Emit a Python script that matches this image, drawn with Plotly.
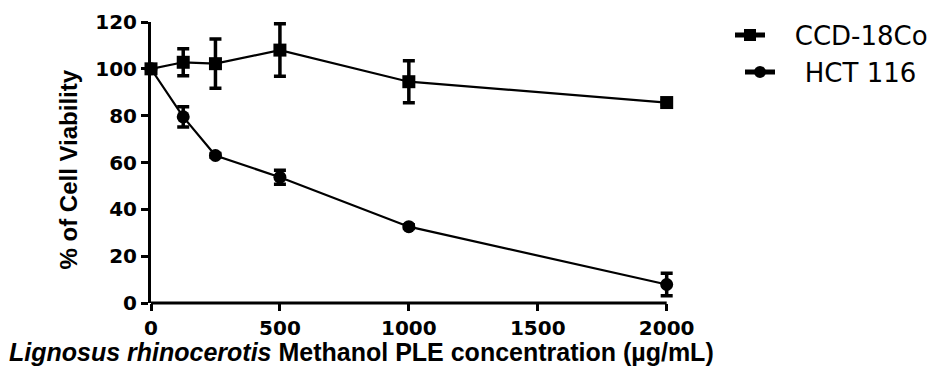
import plotly.graph_objects as go

conc = [0, 125, 250, 500, 1000, 2000]
ccd_vals = [100, 102.8, 102.2, 108.0, 94.5, 85.6]
ccd_err = [0.5, 5.8, 10.5, 11.2, 9.0, 0.8]
hct_vals = [100, 79.5, 63.0, 53.7, 32.6, 7.9]
hct_err = [0.5, 4.3, 0.8, 3.0, 0.8, 4.8]
x_ticks = [0, 500, 1000, 1500, 2000]
y_ticks = [0, 20, 40, 60, 80, 100, 120]
series_names = ["CCD-18Co", "HCT 116"]

W, H = 933, 368
L, R, T, B = 151, 256, 22, 65
PW, PH = W - L - R, H - T - B
PAD = "\u00a0\u00a0\u00a0"


def px(xp):
    return (xp - L) / PW


def py(yp):
    return (H - B - yp) / PH


fig = go.Figure()
fig.add_trace(go.Scatter(
    x=conc, y=ccd_vals, name=PAD + series_names[0], mode="lines+markers",
    line=dict(color="black", width=2.2),
    marker=dict(symbol="square", size=13, color="black"),
    error_y=dict(type="data", array=ccd_err, color="black", thickness=3.5, width=6),
    cliponaxis=False, legend="legend"))
fig.add_trace(go.Scatter(
    x=conc, y=hct_vals, name=PAD + series_names[1], mode="lines+markers",
    line=dict(color="black", width=2.2),
    marker=dict(symbol="circle", size=13, color="black"),
    error_y=dict(type="data", array=hct_err, color="black", thickness=3.5, width=6),
    cliponaxis=False, legend="legend2"))

# x axis line from 0 to 2000 only
fig.add_shape(type="line", xref="x", yref="paper", x0=0, x1=2000, y0=0, y1=0,
              line=dict(color="black", width=3))

tick_font = dict(family="DejaVu Sans", size=20, color="black", weight="bold")
leg_font = dict(family="DejaVu Sans", size=26, color="black")
fig.update_layout(
    width=W, height=H,
    margin=dict(l=L, r=R, t=T, b=B, autoexpand=False),
    paper_bgcolor="white", plot_bgcolor="white",
    xaxis=dict(range=[0, 2040], tickvals=x_ticks, showgrid=False, zeroline=False,
               showline=False, automargin=False,
               ticks="outside", ticklen=7, tickwidth=3, tickcolor="black",
               tickfont=tick_font),
    yaxis=dict(range=[0, 120], tickvals=y_ticks, showgrid=False, zeroline=False,
               showline=True, linecolor="black", linewidth=3, automargin=False,
               ticks="outside", ticklen=7, tickwidth=3, tickcolor="black",
               tickfont=tick_font),
    legend=dict(x=px(730), y=py(35), xanchor="left", yanchor="middle",
                font=leg_font, itemsizing="constant", bgcolor="rgba(0,0,0,0)"),
    legend2=dict(x=px(740), y=py(72), xanchor="left", yanchor="middle",
                 font=leg_font, itemsizing="constant", bgcolor="rgba(0,0,0,0)"),
    showlegend=True,
)
fig.add_annotation(
    text="% of Cell Viability", textangle=-90,
    xref="paper", yref="paper", x=px(67.5), y=py(170),
    xanchor="center", yanchor="middle", showarrow=False,
    font=dict(family="Liberation Sans, Arial", size=24, color="black", weight="bold"))
fig.add_annotation(
    text="<i>Lignosus rhinocerotis</i> Methanol PLE concentration (µg/mL)",
    xref="paper", yref="paper", x=px(361.5), y=py(352),
    xanchor="center", yanchor="middle", showarrow=False,
    font=dict(family="Liberation Sans, Arial", size=25, color="black", weight="bold"))

fig.write_html("out.html")
